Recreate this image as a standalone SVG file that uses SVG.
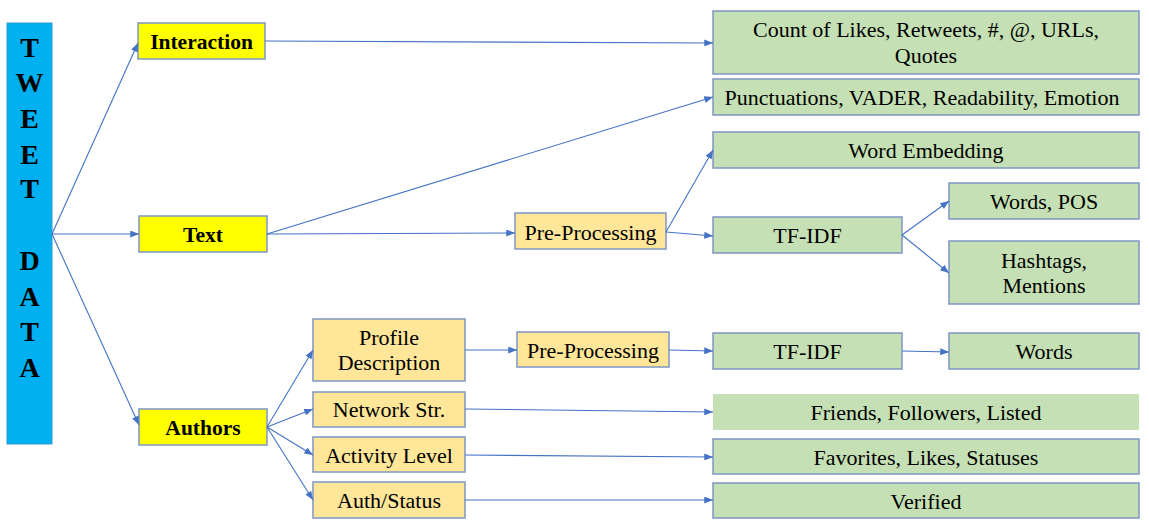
<svg xmlns="http://www.w3.org/2000/svg" width="1149" height="528" viewBox="0 0 1149 528">
<style>
.box{stroke:#7F97C4;stroke-width:1.5}
.y{fill:#FFFF00}
.o{fill:#FFE699}
.g{fill:#C5E0B4}
.c line{stroke:#4472C4;stroke-width:1.1;marker-end:url(#ah)}
</style>
<defs>
<marker id="ah" viewBox="0 0 10 8" refX="10" refY="4" markerWidth="9" markerHeight="7" markerUnits="userSpaceOnUse" orient="auto">
<path d="M0,0 L10,4 L0,8 z" fill="#4472C4"/>
</marker>
</defs>
<rect width="1149" height="528" fill="#fff"/>
<g id="tweet-data" font-family="Liberation Serif" font-size="28" font-weight="bold" text-anchor="middle" fill="#000">
<rect x="7" y="23" width="45" height="421" fill="#00B0F0" stroke="#2E9BD0" stroke-width="1"/>
<text x="29.5" y="57">T</text>
<text x="29.5" y="92">W</text>
<text x="29.5" y="128">E</text>
<text x="29.5" y="164">E</text>
<text x="29.5" y="198">T</text>
<text x="29.5" y="270">D</text>
<text x="29.5" y="306">A</text>
<text x="29.5" y="341">T</text>
<text x="29.5" y="377">A</text>
</g>
<g font-family="Liberation Serif" font-size="21.5" font-weight="bold" text-anchor="middle" fill="#000">
<g id="interaction"><rect class="box y" x="138" y="23" width="127" height="36"/><text x="201.5" y="48.5">Interaction</text></g>
<g id="text"><rect class="box y" x="139" y="216" width="128" height="36"/><text x="203" y="241.5">Text</text></g>
<g id="authors"><rect class="box y" x="139" y="409" width="128" height="36"/><text x="203" y="434.5">Authors</text></g>
</g>
<g font-family="Liberation Serif" font-size="22" text-anchor="middle" fill="#000">
<g id="count"><rect class="box g" x="713" y="11" width="426" height="63"/><text x="926" y="37">Count of Likes, Retweets, #, @, URLs,</text><text x="926" y="63">Quotes</text></g>
<g id="punct"><rect class="box g" x="713" y="79" width="426" height="36"/><text x="922" y="104.5">Punctuations, VADER, Readability, Emotion</text></g>
<g id="wordemb"><rect class="box g" x="713" y="132" width="426" height="36"/><text x="926" y="157.5">Word Embedding</text></g>
<g id="preproc1"><rect class="box o" x="515" y="213" width="151" height="36"/><text x="590.5" y="239.5">Pre-Processing</text></g>
<g id="tfidf1"><rect class="box g" x="713" y="217" width="189" height="36"/><text x="807.5" y="242.5">TF-IDF</text></g>
<g id="wordspos"><rect class="box g" x="949" y="183" width="190" height="36"/><text x="1044" y="208.5">Words, POS</text></g>
<g id="hashtags"><rect class="box g" x="949" y="241" width="190" height="63"/><text x="1044" y="268">Hashtags,</text><text x="1044" y="293">Mentions</text></g>
<g id="profile"><rect class="box o" x="313" y="319" width="152" height="62"/><text x="389" y="345">Profile</text><text x="389" y="370">Description</text></g>
<g id="network"><rect class="box o" x="313" y="392" width="152" height="35"/><text x="389" y="416.5">Network Str.</text></g>
<g id="activity"><rect class="box o" x="313" y="437" width="152" height="35"/><text x="389" y="462.5">Activity Level</text></g>
<g id="authstatus"><rect class="box o" x="313" y="482" width="152" height="36"/><text x="389" y="507.5">Auth/Status</text></g>
<g id="preproc2"><rect class="box o" x="517" y="332" width="152" height="35"/><text x="593" y="357.5">Pre-Processing</text></g>
<g id="tfidf2"><rect class="box g" x="713" y="333" width="189" height="36"/><text x="807.5" y="358.5">TF-IDF</text></g>
<g id="words"><rect class="box g" x="949" y="333" width="190" height="36"/><text x="1044" y="359">Words</text></g>
<g id="friends"><rect class="g" x="713" y="394" width="426" height="36"/><text x="926" y="419.5">Friends, Followers, Listed</text></g>
<g id="favorites"><rect class="box g" x="713" y="439" width="426" height="35"/><text x="926" y="464.5">Favorites, Likes, Statuses</text></g>
<g id="verified"><rect class="box g" x="713" y="483" width="426" height="35"/><text x="926" y="508.5">Verified</text></g>
</g>
<g id="connectors" class="c">
<line x1="52" y1="234" x2="138" y2="43"/>
<line x1="52" y1="234" x2="139" y2="234"/>
<line x1="52" y1="234" x2="139" y2="425"/>
<line x1="265" y1="41" x2="713" y2="43"/>
<line x1="267" y1="234" x2="713" y2="97"/>
<line x1="267" y1="234" x2="515" y2="233"/>
<line x1="666" y1="232" x2="713" y2="150"/>
<line x1="666" y1="232" x2="713" y2="236"/>
<line x1="902" y1="235" x2="949" y2="201"/>
<line x1="902" y1="235" x2="949" y2="273"/>
<line x1="267" y1="427" x2="313" y2="350"/>
<line x1="267" y1="427" x2="313" y2="409"/>
<line x1="267" y1="427" x2="313" y2="455"/>
<line x1="267" y1="427" x2="313" y2="500"/>
<line x1="465" y1="350" x2="517" y2="350"/>
<line x1="669" y1="350" x2="713" y2="351"/>
<line x1="902" y1="351" x2="949" y2="352"/>
<line x1="465" y1="409" x2="713" y2="412"/>
<line x1="465" y1="455" x2="713" y2="457"/>
<line x1="465" y1="500" x2="713" y2="500"/>
</g>
</svg>
